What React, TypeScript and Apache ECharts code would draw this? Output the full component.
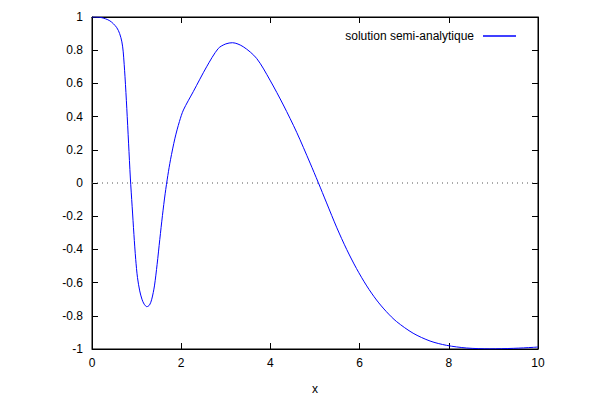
import React, { useEffect, useRef } from "react";
import * as echarts from "echarts";

const seriesName = "solution semi-analytique";
const xValues = [
  0, 0.2, 0.4, 0.55, 0.62, 0.67, 0.7, 0.74, 0.78, 0.82, 0.86, 0.9, 0.94, 0.98, 1.02, 1.07,
  1.12, 1.17, 1.23, 1.29, 1.34, 1.4, 1.46, 1.52, 1.58, 1.64, 1.7, 1.76, 1.86, 1.96, 2.05,
  2.27, 2.57, 2.83, 3.0, 3.15, 3.39, 3.69, 3.99, 4.29, 4.59, 4.89, 5.07, 5.26, 5.49, 5.71,
  5.93, 6.16, 6.38, 6.6, 6.83, 7.2, 7.58, 7.95, 8.4, 8.92, 9.45, 9.9, 10,
];
const yValues = [
  1, 0.997, 0.977, 0.938, 0.9, 0.85, 0.79, 0.64, 0.45, 0.24, 0.03, -0.14, -0.31, -0.46,
  -0.57, -0.65, -0.7, -0.73, -0.745, -0.735, -0.7, -0.62, -0.49, -0.34, -0.195, -0.065,
  0.045, 0.14, 0.27, 0.37, 0.44, 0.55, 0.7, 0.81, 0.838, 0.845, 0.821, 0.751, 0.62, 0.47,
  0.305, 0.12, 0.005, -0.12, -0.27, -0.4, -0.515, -0.62, -0.705, -0.775, -0.835, -0.905,
  -0.952, -0.978, -0.994, -0.999, -0.996, -0.99, -0.988,
];
const zeroLineX = [0, 10];
const zeroLineY = [0, 0];
const xTicks = [0, 2, 4, 6, 8, 10];
const yTicks = [-1, -0.8, -0.6, -0.4, -0.2, 0, 0.2, 0.4, 0.6, 0.8, 1];

const fmt = (v: number) => String(Math.round(v * 10) / 10);

export default function App() {
  const ref = useRef<HTMLDivElement>(null);
  useEffect(() => {
    if (!ref.current) return;
    const chart = echarts.init(ref.current, null, { renderer: "svg" });
    const font = { fontFamily: "Liberation Sans, Arial, sans-serif", fontSize: 12, color: "#000" };
    const mkLine = () => ({ show: true, onZero: false, lineStyle: { color: "#000", width: 1 } });
    const mkTick = () => ({ show: true, inside: true, length: 6, lineStyle: { color: "#000", width: 1 } });
    const xRange = { min: xTicks[0], max: xTicks[xTicks.length - 1], interval: 2 };
    const yRange = { min: yTicks[0], max: yTicks[yTicks.length - 1], interval: 0.2 };
    chart.setOption({
      animation: false,
      backgroundColor: "#fff",
      grid: {
        left: 92,
        right: 62,
        top: 17,
        bottom: 51,
        containLabel: false,
        show: true,
        borderColor: "#000",
        borderWidth: 1,
      },
      legend: {
        show: true,
        right: 79,
        top: 25,
        align: "right",
        icon: "rect",
        itemWidth: 33,
        itemHeight: 1.5,
        textStyle: { ...font, padding: [0, 4, 0, 0] },
        data: [{ name: seriesName, itemStyle: { color: "#0000ff" } }],
      },
      xAxis: [
        {
          type: "value",
          ...xRange,
          position: "bottom",
          splitLine: { show: false },
          axisLine: mkLine(),
          axisTick: mkTick(),
          name: "x",
          nameLocation: "middle",
          nameGap: 34,
          nameTextStyle: font,
          axisLabel: { ...font, margin: 8, formatter: fmt },
        },
        {
          type: "value",
          ...xRange,
          position: "top",
          show: true,
          splitLine: { show: false },
          axisLine: mkLine(),
          axisTick: mkTick(),
          axisLabel: { show: false },
        },
      ],
      yAxis: [
        {
          type: "value",
          ...yRange,
          position: "left",
          splitLine: { show: false },
          axisLine: mkLine(),
          axisTick: mkTick(),
          axisLabel: { ...font, margin: 9, formatter: fmt },
        },
        {
          type: "value",
          ...yRange,
          position: "right",
          show: true,
          splitLine: { show: false },
          axisLine: mkLine(),
          axisTick: mkTick(),
          axisLabel: { show: false },
        },
      ],
      series: [
        {
          name: "zero",
          type: "line",
          xAxisIndex: 1,
          yAxisIndex: 1,
          data: zeroLineX.map((x, i) => [x, zeroLineY[i]]),
          showSymbol: false,
          symbol: "none",
          silent: true,
          lineStyle: { color: "#555", type: [1, 4], width: 1 },
          z: 1,
        },
        {
          name: seriesName,
          type: "line",
          data: xValues.map((x, i) => [x, yValues[i]]),
          showSymbol: false,
          symbol: "none",
          smooth: 0.3,
          lineStyle: { color: "#0000ff", width: 1 },
          itemStyle: { color: "#0000ff" },
          z: 3,
        },
      ],
    });
    return () => chart.dispose();
  }, []);
  return <div ref={ref} style={{ width: 600, height: 400, position: "absolute", left: 0, top: 0 }} />;
}
